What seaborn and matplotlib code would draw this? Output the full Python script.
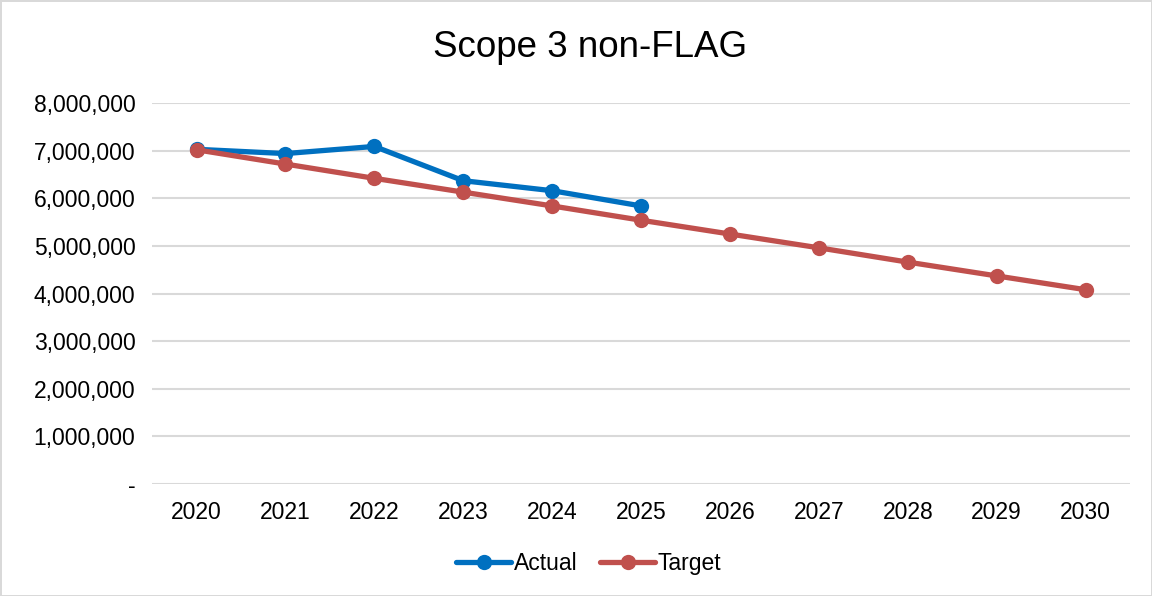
import pandas as pd
import matplotlib.pyplot as plt
import matplotlib.ticker as mticker
import seaborn as sns

# data
years = [2020, 2021, 2022, 2023, 2024, 2025, 2026, 2027, 2028, 2029, 2030]
actual_years = [2020, 2021, 2022, 2023, 2024, 2025]
actual = [7030000, 6940000, 7090000, 6370000, 6160000, 5840000]
target = [7020000, 6720000, 6420000, 6130000, 5840000, 5540000,
          5250000, 4960000, 4660000, 4370000, 4080000]

df = pd.concat([
    pd.DataFrame({'Year': actual_years, 'Value': actual, 'Series': 'Actual'}),
    pd.DataFrame({'Year': years, 'Value': target, 'Series': 'Target'}),
])

sns.set_style("white")
plt.rcParams['font.family'] = ['Liberation Sans', 'DejaVu Sans']
plt.rcParams['text.color'] = 'black'

fig = plt.figure(figsize=(11.52, 5.96), dpi=100, edgecolor='#D9D9D9', linewidth=2)
ax = fig.add_axes([0.132, 0.188, 0.849, 0.639])

palette = {'Actual': '#0070C0', 'Target': '#C0504D'}
sns.lineplot(data=df, x='Year', y='Value', hue='Series', palette=palette,
             marker='o', markersize=11, markeredgewidth=0, linewidth=3.8,
             ax=ax, legend=False, zorder=3)

ax.set_xlim(2019.5, 2030.5)
ax.set_ylim(0, 8000000)
ax.set_xticks(years)
ax.set_yticks(range(0, 8000001, 1000000))
ax.yaxis.set_major_formatter(mticker.FuncFormatter(
    lambda v, p: '-' if v == 0 else f'{int(v):,}'))
ax.grid(axis='y', color='#D9D9D9', linewidth=1.5, zorder=0)
ax.set_axisbelow(True)
for s in ax.spines.values():
    s.set_visible(False)
ax.tick_params(axis='both', length=0, labelsize=16.5, colors='black')
ax.tick_params(axis='y', pad=12)
ax.tick_params(axis='x', pad=12)
ax.set_xlabel('')
ax.set_ylabel('')

fig.suptitle('Scope 3 non-FLAG', fontsize=26.5, y=0.92, va='center', x=0.512,
             color='black')

handles = [plt.Line2D([], [], color=palette[k], marker='o', markersize=11,
                      linewidth=3.8, markeredgewidth=0) for k in ['Actual', 'Target']]
fig.legend(handles, ['Actual', 'Target'], loc='center', bbox_to_anchor=(0.511, 0.055),
           ncol=2, frameon=False, fontsize=16.5, handlelength=2.4,
           handletextpad=0.1, columnspacing=1.0, labelcolor='black')

plt.savefig("out.png", dpi=100)
